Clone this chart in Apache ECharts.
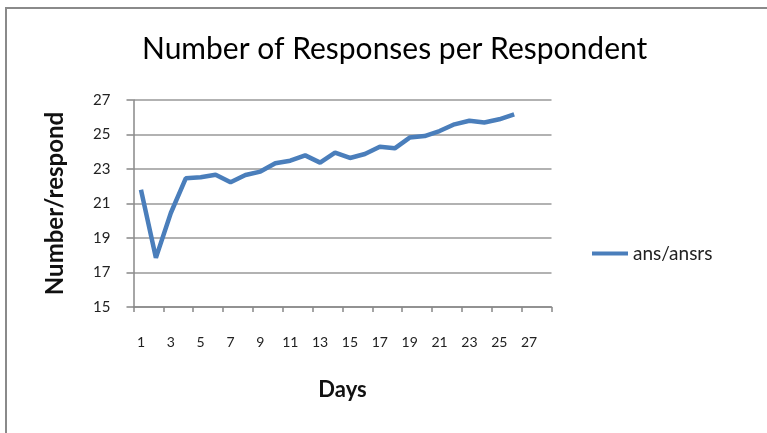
<!DOCTYPE html>
<html>
<head>
<meta charset="utf-8">
<script src="https://cdn.jsdelivr.net/npm/echarts@6/dist/echarts.min.js"></script>
<style>
  body { margin: 0; background: #fff; }
  #myChart { position: absolute; left: 0; top: 0; width: 767px; height: 433px; }
  #frame { position: absolute; left: 5px; top: 7px; right: 0; bottom: 0;
           border-top: 2px solid #8a8a8a; border-left: 2px solid #8a8a8a; pointer-events: none; }
</style>
</head>
<body>
<div id="myChart"></div>
<div id="frame"></div>
<script>
// 天数（1..28），只显示奇数标签
var days = [];
for (var d = 1; d <= 28; d++) days.push(String(d));
// 每位受访者回答数
var ansPerRespondent = [21.8, 17.85, 20.45, 22.46, 22.52, 22.67, 22.23, 22.65, 22.85, 23.33,
  23.48, 23.79, 23.37, 23.95, 23.64, 23.87, 24.29, 24.2, 24.82, 24.91,
  25.2, 25.59, 25.8, 25.7, 25.88, 26.17];
var seriesName = "ans/ansrs";
var font = "Lato, 'Open Sans', sans-serif";

var myChart = echarts.init(document.getElementById("myChart"));
myChart.setOption({
  backgroundColor: "#fff",
  animation: false,
  title: {
    text: "Number of Responses per Respondent",
    left: 142,
    top: 34,
    padding: 0,
    textStyle: { fontFamily: font, fontSize: 30, fontWeight: "normal", color: "#000" }
  },
  legend: {
    data: [{ name: seriesName, icon: "rect" }],
    left: 592,
    top: 244,
    padding: 0,
    itemWidth: 36,
    itemHeight: 4,
    textStyle: { fontFamily: font, fontSize: 19, color: "#222" }
  },
  grid: { left: 133.5, right: 215.5, top: 100, bottom: 126 },
  xAxis: {
    type: "category",
    data: days,
    boundaryGap: true,
    name: "Days",
    nameLocation: "middle",
    nameGap: 72,
    nameTextStyle: { fontFamily: font, fontSize: 22, fontWeight: "bold", color: "#111" },
    axisLine: { lineStyle: { color: "#888", width: 1.5 } },
    axisTick: { show: true, length: 5, lineStyle: { color: "#888", width: 1.5 } },
    axisLabel: { interval: 1, margin: 28, fontFamily: font, fontSize: 14, color: "#222" }
  },
  yAxis: {
    type: "value",
    min: 15,
    max: 27,
    interval: 2,
    name: "Number/respond",
    nameLocation: "middle",
    nameGap: 66,
    nameTextStyle: { fontFamily: font, fontSize: 24, fontWeight: "bold", color: "#111" },
    axisLine: { show: true, lineStyle: { color: "#888", width: 1.5 } },
    axisTick: { show: true, length: 7, lineStyle: { color: "#888", width: 1.5 } },
    axisLabel: { margin: 23, fontFamily: font, fontSize: 15, color: "#222" },
    splitLine: { lineStyle: { color: "#999", width: 1.5 } }
  },
  series: [
    {
      name: seriesName,
      type: "line",
      data: ansPerRespondent,
      showSymbol: false,
      symbol: "none",
      itemStyle: { color: "#4a7ebb" },
      lineStyle: { color: "#4a7ebb", width: 4.5 }
    }
  ]
});
</script>
</body>
</html>
